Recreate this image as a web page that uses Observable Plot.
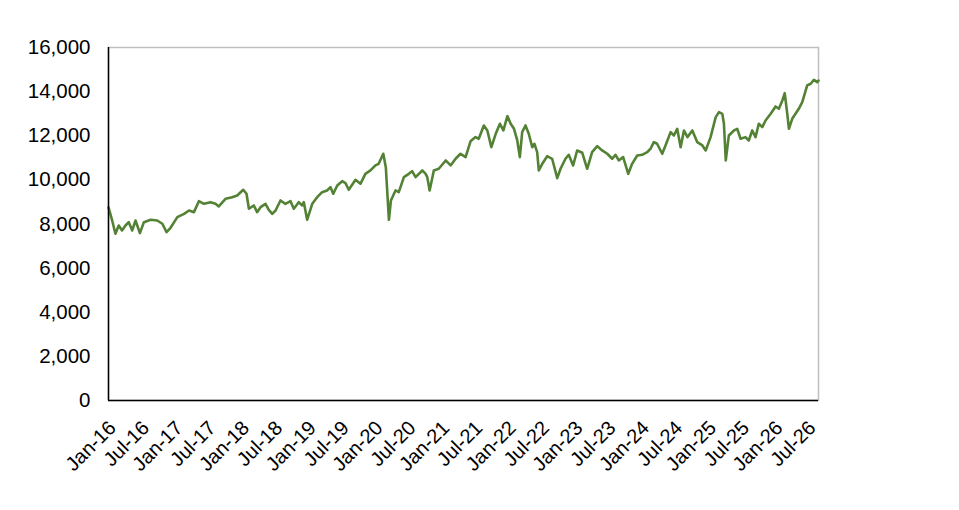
<!DOCTYPE html>
<html><head><meta charset="utf-8">
<script src="https://cdn.jsdelivr.net/npm/d3@7"></script>
<script src="https://cdn.jsdelivr.net/npm/@observablehq/plot@0.6"></script>
<style>
body{margin:0;background:#fff}
#chart svg text{font-family:'Liberation Sans', Arial, sans-serif !important;}
#chart svg g[aria-label="y-axis tick label"] text{font-size:20.5px !important;}
#chart svg g[aria-label="x-axis tick label"] text{font-size:20px !important;}
</style>
</head><body><div id="chart"></div>
<script>
const dates = [
"2016-01-01","2016-01-21","2016-02-08","2016-02-26","2016-03-15","2016-04-03","2016-04-21","2016-05-10","2016-05-28","2016-06-21",
"2016-07-13","2016-08-19","2016-09-24","2016-10-22","2016-11-14","2016-12-06","2017-01-12","2017-02-18","2017-03-17","2017-04-13",
"2017-05-10","2017-06-07","2017-07-13","2017-08-09","2017-08-27","2017-10-03","2017-11-08","2017-12-06","2018-01-08","2018-01-26",
"2018-02-08","2018-03-07","2018-03-25","2018-04-13","2018-05-10","2018-05-28","2018-06-16","2018-07-04","2018-07-31","2018-08-27",
"2018-09-24","2018-10-12","2018-11-08","2018-11-27","2018-12-06","2018-12-24","2019-01-21","2019-02-17","2019-03-16","2019-04-12",
"2019-05-01","2019-05-16","2019-06-07","2019-07-04","2019-07-22","2019-08-09","2019-09-15","2019-10-12","2019-11-08","2019-12-06",
"2020-01-02","2020-01-20","2020-02-14","2020-02-28","2020-03-16","2020-03-27","2020-04-21","2020-05-09","2020-06-06","2020-07-03",
"2020-07-21","2020-08-09","2020-09-15","2020-10-03","2020-10-12","2020-10-25","2020-11-17","2020-12-14","2021-01-21","2021-02-17",
"2021-03-16","2021-04-12","2021-05-10","2021-06-06","2021-07-03","2021-07-21","2021-08-18","2021-09-06","2021-09-28","2021-10-22",
"2021-11-14","2021-12-03","2021-12-25","2022-01-12","2022-01-30","2022-02-17","2022-03-03","2022-03-16","2022-04-03","2022-04-21",
"2022-05-10","2022-05-22","2022-06-06","2022-06-15","2022-07-04","2022-07-31","2022-08-27","2022-09-24","2022-10-12","2022-11-08",
"2022-11-26","2022-12-20","2023-01-11","2023-02-08","2023-03-07","2023-04-03","2023-05-01","2023-05-28","2023-06-25","2023-07-22",
"2023-08-09","2023-08-27","2023-09-20","2023-10-18","2023-11-08","2023-12-06","2024-01-02","2024-01-30","2024-02-17","2024-03-06",
"2024-03-24","2024-04-21","2024-05-09","2024-06-06","2024-06-24","2024-07-12","2024-07-31","2024-08-18","2024-09-06","2024-10-03",
"2024-10-30","2024-11-27","2024-12-15","2025-01-11","2025-02-08","2025-02-26","2025-03-16","2025-03-25","2025-04-04","2025-04-21",
"2025-05-19","2025-06-06","2025-06-24","2025-07-21","2025-08-08","2025-08-27","2025-09-14","2025-10-02","2025-10-21","2025-11-08",
"2025-12-06","2026-01-02","2026-01-20","2026-02-08","2026-02-21","2026-03-07","2026-03-16","2026-04-03","2026-04-21","2026-05-09",
"2026-05-28","2026-06-24","2026-07-13","2026-07-31","2026-08-18","2026-08-25"
];
const values = [
8750,8160,7556,7933,7707,7933,8083,7707,8160,7587,
8083,8190,8160,8010,7630,7829,8310,8462,8613,8537,
9035,8915,8990,8915,8794,9143,9216,9293,9551,9370,
8690,8840,8537,8764,8915,8643,8462,8613,9067,8915,
9035,8690,8990,8840,8990,8190,8915,9216,9443,9520,
9670,9370,9746,9942,9852,9551,10003,9822,10275,10427,
10654,10728,11183,10577,8190,9067,9520,9443,10124,10275,
10395,10124,10427,10275,10124,9520,10427,10503,10880,10654,
10956,11183,11030,11750,11938,11863,12466,12240,11482,12089,
12542,12240,12889,12542,12315,11786,11030,12164,12466,12089,
11482,11636,11258,10427,10728,11074,10956,10078,10503,10956,
11137,10654,11333,11228,10503,11258,11530,11333,11183,10956,
11137,10880,11030,10275,10728,11107,11137,11258,11410,11710,
11636,11183,11560,12164,12013,12315,11482,12240,11938,12240,
11710,11560,11333,11938,12844,13070,12995,12542,10880,12013,
12240,12315,11863,11938,11786,12240,11938,12542,12391,12693,
12995,13327,13222,13600,13930,12995,12315,12769,12995,13222,
13520,14280,14357,14535,14430,14500
];
const xTickLabels = ["Jan-16","Jul-16","Jan-17","Jul-17","Jan-18","Jul-18","Jan-19","Jul-19","Jan-20","Jul-20","Jan-21","Jul-21","Jan-22","Jul-22","Jan-23","Jul-23","Jan-24","Jul-24","Jan-25","Jul-25","Jan-26","Jul-26"];
const yTicks = [0,2000,4000,6000,8000,10000,12000,14000,16000];

const parseDay = d3.utcParse("%Y-%m-%d");
const parseTick = d3.utcParse("%b-%y");
const data = dates.map((d, i) => ({date: parseDay(d), value: values[i]}));
const xTicks = xTickLabels.map(parseTick);
const start = parseDay(dates[0]);
const end = parseDay(dates[dates.length - 1]);

const chart = Plot.plot({
  width: 959, height: 510,
  marginLeft: 108, marginRight: 141, marginTop: 47, marginBottom: 110,
  style: {fontFamily: "'Liberation Sans', Arial, sans-serif", fontSize: "20px", color: "#000", background: "#fff"},
  x: {type: "utc", domain: [start, end]},
  y: {domain: [0, 16000]},
  marks: [
    Plot.frame({stroke: "#bfbfbf", strokeWidth: 1.5}),
    Plot.axisY({ticks: yTicks, tickSize: 0, tickPadding: 18, tickFormat: d3.format(","), label: null}),
    Plot.axisX({ticks: xTicks, tickSize: 0, tickPadding: 24, dx: 4, tickRotate: -45, tickFormat: d3.utcFormat("%b-%y"), label: null}),
    Plot.line(data, {x: "date", y: "value", stroke: "#548235", strokeWidth: 2.6, strokeLinejoin: "round"}),
    Plot.ruleX([start], {stroke: "#000", strokeWidth: 1.5}),
    Plot.ruleY([0], {stroke: "#000", strokeWidth: 1.5})
  ]
});
document.getElementById("chart").appendChild(chart);
</script>
</body></html>
